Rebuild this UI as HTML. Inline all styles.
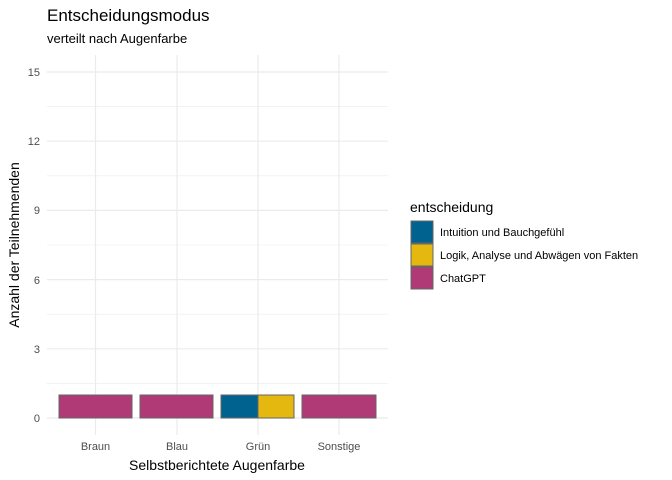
<!DOCTYPE html>
<html><head><meta charset="utf-8"><style>
body{margin:0;background:#fff;}
svg{display:block;font-family:"Liberation Sans",sans-serif;}
</style></head><body>
<svg width="672" height="480" xmlns="http://www.w3.org/2000/svg">
<rect width="672" height="480" fill="#fff"/>
<g stroke="#ebebeb" stroke-width="0.6">
<line x1="47" x2="388" y1="383.4" y2="383.4"/><line x1="47" x2="388" y1="314.2" y2="314.2"/>
<line x1="47" x2="388" y1="245" y2="245"/><line x1="47" x2="388" y1="175.8" y2="175.8"/>
<line x1="47" x2="388" y1="106.6" y2="106.6"/>
</g>
<g stroke="#ebebeb" stroke-width="1.2">
<line x1="47" x2="388" y1="418" y2="418"/><line x1="47" x2="388" y1="348.8" y2="348.8"/>
<line x1="47" x2="388" y1="279.6" y2="279.6"/><line x1="47" x2="388" y1="210.4" y2="210.4"/>
<line x1="47" x2="388" y1="141.2" y2="141.2"/><line x1="47" x2="388" y1="72" y2="72"/>
<line x1="95.5" x2="95.5" y1="55" y2="435"/><line x1="177" x2="177" y1="55" y2="435"/>
<line x1="258" x2="258" y1="55" y2="435"/><line x1="339" x2="339" y1="55" y2="435"/>
</g>
<g stroke="#666" stroke-width="1">
<rect x="59" y="395" width="73" height="23" fill="#b03a75"/>
<rect x="140" y="395" width="73" height="23" fill="#b03a75"/>
<rect x="221" y="395" width="37" height="23" fill="#00628f"/>
<rect x="258" y="395" width="36" height="23" fill="#e4b80e"/>
<rect x="302" y="395" width="74" height="23" fill="#b03a75"/>
</g>
<g font-size="11" fill="#4d4d4d" text-anchor="end">
<text x="40" y="422">0</text><text x="40" y="353">3</text><text x="40" y="284">6</text>
<text x="40" y="214">9</text><text x="40" y="145">12</text><text x="40" y="76">15</text>
</g>
<g font-size="11" fill="#4d4d4d" text-anchor="middle">
<text x="95.5" y="450">Braun</text><text x="177" y="450">Blau</text>
<text x="258" y="450">Grün</text><text x="339" y="450">Sonstige</text>
</g>
<text x="217" y="470" font-size="14" text-anchor="middle" fill="#000">Selbstberichtete Augenfarbe</text>
<text transform="translate(19,245) rotate(-90)" font-size="14" text-anchor="middle" fill="#000">Anzahl der Teilnehmenden</text>
<text x="47" y="21" font-size="17" fill="#000">Entscheidungsmodus</text>
<text x="47" y="43" font-size="13" fill="#000">verteilt nach Augenfarbe</text>
<text x="410" y="212" font-size="14" fill="#000">entscheidung</text>
<g stroke="#666" stroke-width="1">
<rect x="411" y="221" width="22" height="22" fill="#00628f"/>
<rect x="411" y="244" width="22" height="22" fill="#e4b80e"/>
<rect x="411" y="267" width="22" height="22" fill="#b03a75"/>
</g>
<g font-size="11" fill="#000">
<text x="440" y="236">Intuition und Bauchgefühl</text>
<text x="440" y="259">Logik, Analyse und Abwägen von Fakten</text>
<text x="440" y="282">ChatGPT</text>
</g>
</svg>
</body></html>
